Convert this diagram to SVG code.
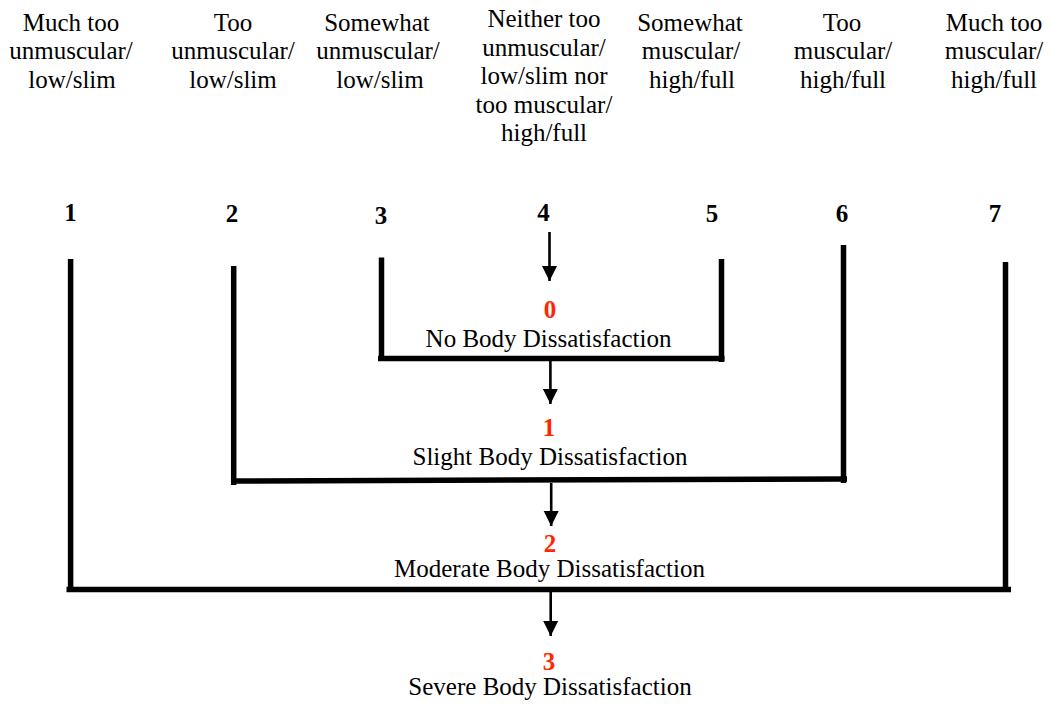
<svg xmlns="http://www.w3.org/2000/svg" width="1051" height="705" viewBox="0 0 1051 705">
<style>
.lbl{font-family:"Liberation Serif","Times New Roman",serif;font-size:25px;fill:#000;text-anchor:middle}
.num{font-family:"Liberation Serif","Times New Roman",serif;font-size:25px;font-weight:bold;fill:#000;text-anchor:middle}
.red{font-family:"Liberation Serif","Times New Roman",serif;font-size:25px;font-weight:bold;fill:#ff2600;text-anchor:middle}
.bar{stroke:#000;stroke-width:5.5;fill:none}
.arr{stroke:#000;stroke-width:2.6;fill:none}
</style>
<defs>
<marker id="ah" markerUnits="userSpaceOnUse" markerWidth="16" markerHeight="16" viewBox="0 0 16 16" refX="15" refY="8" orient="auto">
<path d="M0 0.5 L15 8 L0 15.5 Z" fill="#000"/>
</marker>
</defs>
<rect width="1051" height="705" fill="#fff"/>
<g id="scale1">
<text class="lbl" x="71" y="30.5">Much too</text>
<text class="lbl" x="71" y="59">unmuscular/</text>
<text class="lbl" x="72" y="87.5">low/slim</text>
<text class="num" x="70.5" y="221">1</text>
</g>
<g id="scale2">
<text class="lbl" x="233" y="30.5">Too</text>
<text class="lbl" x="233" y="59">unmuscular/</text>
<text class="lbl" x="233" y="87.5">low/slim</text>
<text class="num" x="232" y="222">2</text>
</g>
<g id="scale3">
<text class="lbl" x="377" y="30.5">Somewhat</text>
<text class="lbl" x="378" y="59">unmuscular/</text>
<text class="lbl" x="380" y="87.5">low/slim</text>
<text class="num" x="381" y="224">3</text>
</g>
<g id="scale4">
<text class="lbl" x="544" y="27">Neither too</text>
<text class="lbl" x="544" y="55.5">unmuscular/</text>
<text class="lbl" x="544" y="84">low/slim nor</text>
<text class="lbl" x="544" y="112.5">too muscular/</text>
<text class="lbl" x="544" y="141">high/full</text>
<text class="num" x="543.5" y="221">4</text>
</g>
<g id="scale5">
<text class="lbl" x="690" y="30.5">Somewhat</text>
<text class="lbl" x="691" y="59">muscular/</text>
<text class="lbl" x="692" y="87.5">high/full</text>
<text class="num" x="712" y="222">5</text>
</g>
<g id="scale6">
<text class="lbl" x="842" y="30.5">Too</text>
<text class="lbl" x="843" y="59">muscular/</text>
<text class="lbl" x="843" y="87.5">high/full</text>
<text class="num" x="842" y="222">6</text>
</g>
<g id="scale7">
<text class="lbl" x="994" y="30.5">Much too</text>
<text class="lbl" x="994" y="59">muscular/</text>
<text class="lbl" x="994" y="87.5">high/full</text>
<text class="num" x="995" y="222">7</text>
</g>
<g id="level0">
<text class="red" x="550" y="318">0</text>
<text class="lbl" x="548.5" y="347">No Body Dissatisfaction</text>
</g>
<g id="level1">
<text class="red" x="549" y="436">1</text>
<text class="lbl" x="550" y="465">Slight Body Dissatisfaction</text>
</g>
<g id="level2">
<text class="red" x="550" y="552">2</text>
<text class="lbl" x="549.5" y="577">Moderate Body Dissatisfaction</text>
</g>
<g id="level3">
<text class="red" x="549" y="670">3</text>
<text class="lbl" x="550" y="695">Severe Body Dissatisfaction</text>
</g>
<g id="connectors">
<line class="bar" x1="381.5" y1="257.5" x2="381.5" y2="361"/>
<line class="bar" x1="721.5" y1="259" x2="721.5" y2="362"/>
<line class="bar" x1="378" y1="358.5" x2="724.5" y2="358.5"/>
<line class="bar" x1="233.7" y1="266" x2="233.7" y2="485"/>
<line class="bar" x1="843.5" y1="245" x2="843.5" y2="483"/>
<line class="bar" x1="231" y1="481" x2="847" y2="479"/>
<line class="bar" x1="70.6" y1="259" x2="70.6" y2="592"/>
<line class="bar" x1="1005.5" y1="262" x2="1005.5" y2="592"/>
<line class="bar" x1="66.5" y1="589.5" x2="1011" y2="589.5"/>
<line class="arr" x1="549.5" y1="232" x2="549.5" y2="281" marker-end="url(#ah)"/>
<line class="arr" x1="550.4" y1="361" x2="550.4" y2="404" marker-end="url(#ah)"/>
<line class="arr" x1="551.2" y1="483" x2="551.2" y2="526" marker-end="url(#ah)"/>
<line class="arr" x1="550.7" y1="592" x2="550.7" y2="636" marker-end="url(#ah)"/>
</g>
</svg>
